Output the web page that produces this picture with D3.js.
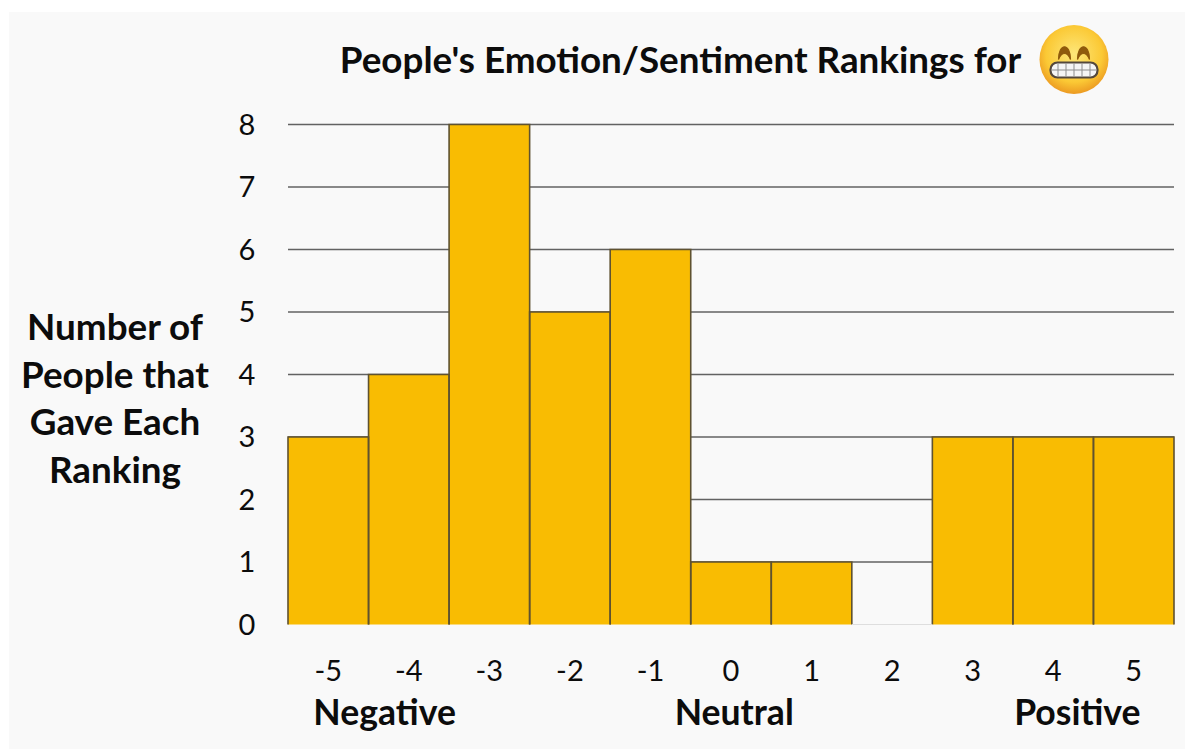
<!DOCTYPE html>
<html>
<head>
<meta charset="utf-8" />
<title>Emotion rankings</title>
<style>
html, body { margin: 0; padding: 0; background: #fff; }
svg { display: block; }
text { font-family: Lato, sans-serif; fill: #0c0c0c; }
</style>
</head>
<body>
<svg id="chart"></svg>
<script src="https://d3js.org/d3.v7.min.js"></script>
<script>
var rankings = [-5, -4, -3, -2, -1, 0, 1, 2, 3, 4, 5];
var counts = [3, 4, 8, 5, 6, 1, 1, 0, 3, 3, 3];
var yTicks = [0, 1, 2, 3, 4, 5, 6, 7, 8];
var titleText = "People's Emotion/Sentiment Rankings for";
var yTitleLines = ["Number of", "People that", "Gave Each", "Ranking"];
var groupLabels = ["Negative", "Neutral", "Positive"];
// rank each group label sits under
var groupRanks = [-4.3, 0.04, 4.3];

var width = 1185, height = 749;
var svg = d3.select("#chart").attr("width", width).attr("height", height);

// the grey slide panel behind everything
svg.append("rect").attr("x", 9).attr("y", 12).attr("width", width - 9).attr("height", height - 12).attr("fill", "#f9f9f9");

var x = d3.scaleBand().domain(rankings).range([288, 1174]).padding(0);
var y = d3.scaleLinear().domain([0, 8]).range([624.5, 124.5]);
var xMid = d3.scaleLinear().domain([-5, 5]).range([x(-5) + x.bandwidth() / 2, x(5) + x.bandwidth() / 2]);

// gridlines
svg.append("g").selectAll("line")
  .data(yTicks.filter(d => d > 0))
  .join("line")
  .attr("x1", 288).attr("x2", 1174)
  .attr("y1", d => y(d)).attr("y2", d => y(d))
  .attr("stroke", "#626262").attr("stroke-width", 1.6);

// bars
svg.append("g").selectAll("rect")
  .data(rankings)
  .join("rect")
  .attr("x", d => x(d))
  .attr("y", (d, i) => y(counts[i]))
  .attr("width", x.bandwidth())
  .attr("height", (d, i) => y(0) - y(counts[i]))
  .attr("fill", "#f9bc02");

// bar outlines, no bottom edge like the original
var outline = svg.append("g").attr("fill", "none").attr("stroke", "#5f5230").attr("stroke-width", 1.6);
rankings.forEach(function(d, i) {
  if (counts[i] === 0) return;
  outline.append("path")
    .attr("d", d3.line()([
      [x(d), y(0)], [x(d), y(counts[i])],
      [x(d) + x.bandwidth(), y(counts[i])], [x(d) + x.bandwidth(), y(0)]
    ]));
});
svg.append("line")
  .attr("x1", x(2)).attr("x2", x(2) + x.bandwidth())
  .attr("y1", y(0)).attr("y2", y(0))
  .attr("stroke", "#dedede").attr("stroke-width", 1.2);

// y tick labels
svg.append("g").selectAll("text")
  .data(yTicks)
  .join("text")
  .attr("x", 247).attr("y", d => y(d) + 10)
  .attr("text-anchor", "middle")
  .attr("font-size", 29)
  .text(d => d);

// x tick labels
svg.append("g").selectAll("text")
  .data(rankings)
  .join("text")
  .attr("x", d => xMid(d))
  .attr("y", 681)
  .attr("text-anchor", "middle")
  .attr("font-size", 29)
  .text(d => d);

// group labels
svg.append("g").selectAll("text")
  .data(groupLabels)
  .join("text")
  .attr("x", (d, i) => xMid(groupRanks[i]))
  .attr("y", 725)
  .attr("text-anchor", "middle")
  .attr("font-size", 35.6)
  .attr("font-weight", 700)
  .text(d => d);

// y title
svg.append("g").selectAll("text")
  .data(yTitleLines)
  .join("text")
  .attr("x", 115)
  .attr("y", (d, i) => 340 + i * 47.5)
  .attr("text-anchor", "middle")
  .attr("font-size", 36.8)
  .attr("font-weight", 700)
  .text(d => d);

// title
svg.append("text")
  .attr("x", 680.5).attr("y", 73)
  .attr("text-anchor", "middle")
  .attr("font-size", 36.8)
  .attr("font-weight", 700)
  .text(titleText);

// grinning face
var defs = svg.append("defs");
var grad = defs.append("radialGradient").attr("id", "face").attr("cx", "50%").attr("cy", "42%").attr("r", "58%");
grad.append("stop").attr("offset", "0%").attr("stop-color", "#fde77a");
grad.append("stop").attr("offset", "70%").attr("stop-color", "#fbc935");
grad.append("stop").attr("offset", "100%").attr("stop-color", "#ec9a22");

var face = svg.append("g").attr("transform", "translate(1074,59.5)");
face.append("circle").attr("r", 34.5).attr("fill", "url(#face)");
[-9.5, 9.5].forEach(function(cx) {
  face.append("path")
    .attr("d", `M${cx - 6},0 C${cx - 6},-17 ${cx + 6},-17 ${cx + 6},0 C${cx + 3},-8 ${cx - 3},-8 ${cx - 6},0 Z`)
    .attr("fill", "#8f5a0c").attr("stroke", "#8f5a0c").attr("stroke-width", 1.2);
});
face.append("rect").attr("x", -23.5).attr("y", 3).attr("width", 47).attr("height", 15).attr("rx", 7)
  .attr("fill", "#f5f5f5").attr("stroke", "#54483c").attr("stroke-width", 2.2);
var teeth = face.append("g").attr("stroke", "#8d8d8d").attr("stroke-width", 1);
[-16, -8, 0, 8, 16].forEach(function(tx) {
  teeth.append("line").attr("x1", tx).attr("x2", tx).attr("y1", 4).attr("y2", 17);
});
teeth.append("line").attr("x1", -22.5).attr("x2", 22.5).attr("y1", 10.5).attr("y2", 10.5);
</script>
</body>
</html>
